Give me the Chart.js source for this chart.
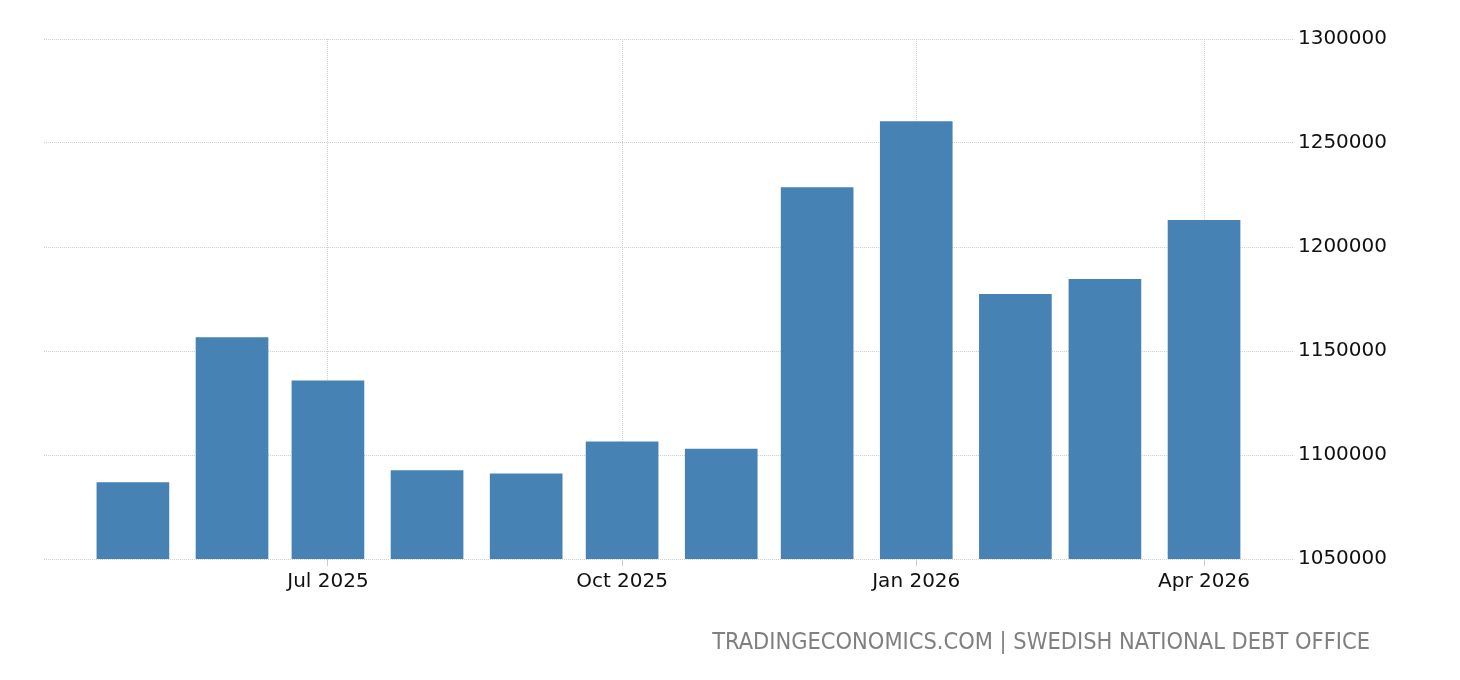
<!DOCTYPE html>
<html>
<head>
<meta charset="utf-8">
<title>Sweden Government Debt</title>
<script src="https://cdn.jsdelivr.net/npm/chart.js@4.4.1/dist/chart.umd.min.js"></script>
<style>
  html, body { margin: 0; padding: 0; background: #fff; }
  #wrap { position: relative; width: 1460px; height: 680px; }
  #chart { display: block; }
  #source {
    position: absolute;
    right: 90px;
    top: 628px;
    font-family: "Liberation Sans Narrow", "DejaVu Sans Condensed", "Liberation Sans", sans-serif;
    font-size: 23.4px;
    color: #808080;
    white-space: nowrap;
    line-height: 26px;
  }
</style>
</head>
<body>
<div id="wrap">
  <canvas id="chart" width="1460" height="680"></canvas>
  <div id="source">TRADINGECONOMICS.COM | SWEDISH NATIONAL DEBT OFFICE</div>
</div>
<script>
  // monthly central government debt, SEK million
  const months = [
    "2025-05-01", "2025-06-01", "2025-07-01", "2025-08-01", "2025-09-01", "2025-10-01",
    "2025-11-01", "2025-12-01", "2026-01-01", "2026-02-01", "2026-03-01", "2026-04-01",
  ];
  const debt = [
    1086700, 1156400, 1135700, 1092500, 1090900, 1106300,
    1102900, 1228600, 1260300, 1177300, 1184500, 1212800,
  ];
  const xTickDates = ["2025-07-01", "2025-10-01", "2026-01-01", "2026-04-01"];
  const yTicks = [1050000, 1100000, 1150000, 1200000, 1250000, 1300000];

  const monthNames = ["Jan", "Feb", "Mar", "Apr", "May", "Jun", "Jul", "Aug", "Sep", "Oct", "Nov", "Dec"];
  const DAY = 86400000;

  function toTime(iso) {
    const p = iso.split("-").map(Number);
    return Date.UTC(p[0], p[1] - 1, p[2]);
  }

  function monthLabel(t) {
    const d = new Date(t);
    return monthNames[d.getUTCMonth()] + " " + d.getUTCFullYear();
  }

  const points = months.map((m, i) => ({ x: toTime(m), y: debt[i] }));
  const xTicks = xTickDates.map(toTime);
  const pad = 27.8 * DAY;

  const gridColor = "#d0d0d0";
  const font = { family: "'DejaVu Sans', sans-serif", size: 20 };

  new Chart(document.getElementById("chart").getContext("2d"), {
    type: "bar",
    data: {
      datasets: [
        {
          label: "Government Debt",
          data: points,
          backgroundColor: "#4682b4",
          borderWidth: 0,
          barThickness: 72,
        },
      ],
    },
    options: {
      responsive: false,
      animation: false,
      layout: { padding: { left: 44, right: 68, top: 39, bottom: 82 } },
      plugins: { legend: { display: false }, tooltip: { enabled: false } },
      scales: {
        x: {
          type: "linear",
          offset: false,
          min: toTime(months[0]) - pad,
          max: toTime(months[months.length - 1]) + pad,
          afterBuildTicks: (scale) => {
            scale.ticks = xTicks.map((v) => ({ value: v }));
          },
          grid: {
            offset: false,
            color: gridColor,
            lineWidth: 1,
            drawTicks: true,
            tickLength: 7,
            tickColor: "#cccccc",
            tickBorderDash: [],
          },
          border: { display: false, dash: [1, 1] },
          ticks: {
            autoSkip: false,
            maxRotation: 0,
            padding: 4,
            color: "#111",
            font: font,
            callback: (v) => monthLabel(v),
          },
        },
        y: {
          position: "right",
          min: yTicks[0],
          max: yTicks[yTicks.length - 1],
          beginAtZero: false,
          afterBuildTicks: (scale) => {
            scale.ticks = yTicks.map((v) => ({ value: v }));
          },
          grid: {
            color: gridColor,
            lineWidth: 1,
            drawTicks: false,
          },
          border: { display: false, dash: [1, 1] },
          ticks: {
            padding: 5,
            color: "#111",
            font: font,
            callback: (v) => String(v),
          },
        },
      },
    },
  });
</script>
</body>
</html>
